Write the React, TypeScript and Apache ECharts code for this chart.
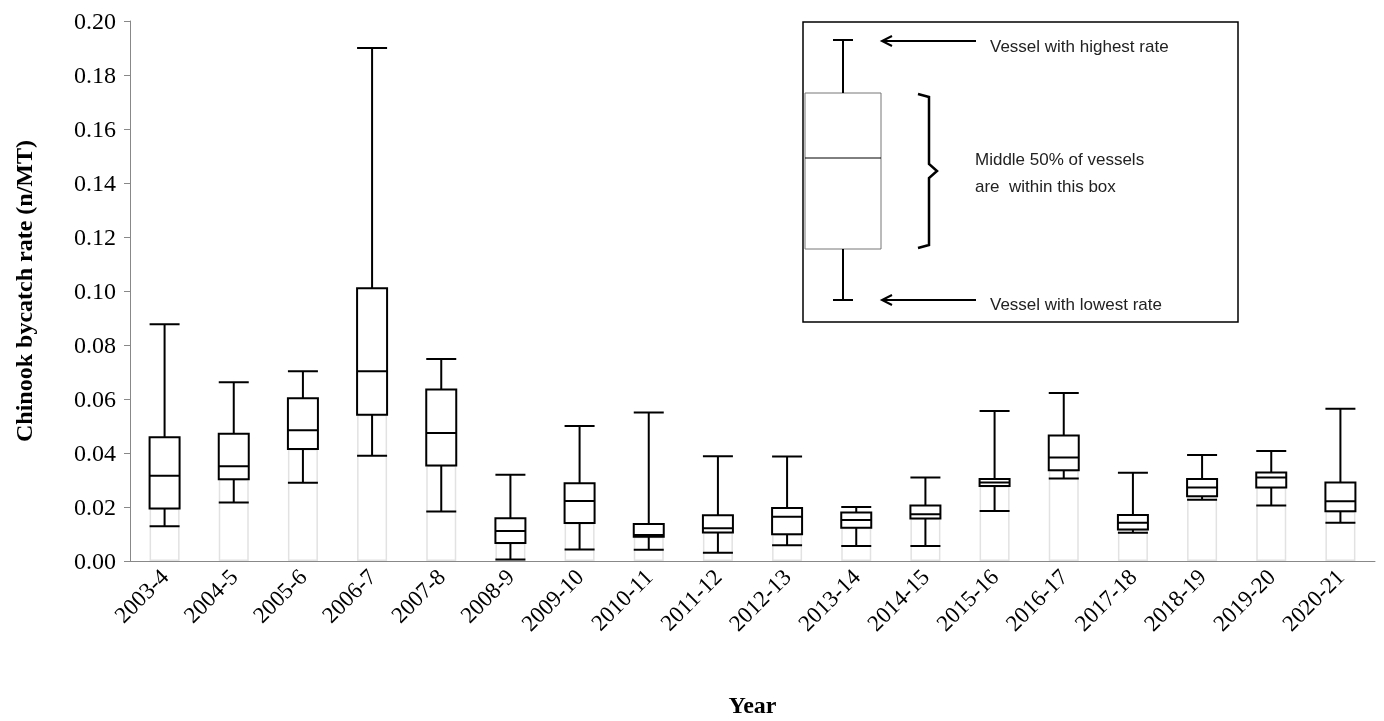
import React, { useEffect, useRef } from "react";
import * as echarts from "echarts";

const years = ["2003-4","2004-5","2005-6","2006-7","2007-8","2008-9","2009-10","2010-11","2011-12","2012-13","2013-14","2014-15","2015-16","2016-17","2017-18","2018-19","2019-20","2020-21"];
const lowest = [0.0129,0.0217,0.029,0.039,0.0183,0.0006,0.0043,0.0042,0.0031,0.0058,0.0056,0.0056,0.0185,0.0306,0.0105,0.0227,0.0206,0.0142];
const q1 = [0.0194,0.0303,0.0415,0.0542,0.0354,0.0067,0.0141,0.009,0.0106,0.0099,0.0123,0.0157,0.0278,0.0336,0.0117,0.024,0.0272,0.0184];
const median = [0.0316,0.0351,0.0484,0.0703,0.0474,0.0111,0.0222,0.0096,0.0121,0.0164,0.0152,0.0173,0.0291,0.0383,0.0142,0.0272,0.0309,0.0221];
const q3 = [0.0458,0.0471,0.0603,0.101,0.0635,0.0158,0.0288,0.0137,0.0169,0.0196,0.018,0.0206,0.0304,0.0465,0.017,0.0304,0.0328,0.0291];
const highest = [0.0877,0.0662,0.0703,0.19,0.0748,0.0319,0.05,0.055,0.0388,0.0387,0.02,0.0309,0.0556,0.0622,0.0327,0.0393,0.0407,0.0564];

export default function App() {
  const ref = useRef<HTMLDivElement>(null);
  useEffect(() => {
    const chart = echarts.init(ref.current!, null, { renderer: "svg" });
    const serif = "'Liberation Serif', 'Times New Roman', serif";
    const sans = "'Liberation Sans', Arial, sans-serif";
    const txt = (x: number, y: number, t: string) => ({ type: "text", x, y, style: { text: t, font: `17px ${sans}`, fill: "#222", textVerticalAlign: "middle" } });
    chart.setOption({
      animation: false,
      grid: { left: 130, right: 9, top: 21, bottom: 160, outerBoundsMode: "none", containLabel: false },
      xAxis: {
        type: "category", data: years, boundaryGap: true,
        name: "Year", nameLocation: "middle", nameGap: 132,
        nameTextStyle: { fontFamily: serif, fontSize: 24, fontWeight: "bold", color: "#000" },
        axisLine: { lineStyle: { color: "#888" } },
        axisTick: { lineStyle: { color: "#888" }, length: 6 },
        axisLabel: { rotate: 45, fontFamily: serif, fontSize: 23, color: "#000", margin: 12 },
      },
      yAxis: {
        type: "value", min: 0, max: 0.2, interval: 0.02,
        name: "Chinook bycatch rate (n/MT)", nameLocation: "middle", nameGap: 94,
        nameTextStyle: { fontFamily: serif, fontSize: 24, fontWeight: "bold", color: "#000" },
        splitLine: { show: false },
        axisLine: { show: true, lineStyle: { color: "#888" } },
        axisTick: { show: true, lineStyle: { color: "#888" }, length: 6 },
        axisLabel: { formatter: (v: number) => v.toFixed(2), fontFamily: serif, fontSize: 24, color: "#000", margin: 14 },
      },
      series: [
        {
          type: "bar", data: q1, barWidth: 30, barGap: "-100%", silent: true,
          itemStyle: { color: "rgba(255,255,255,0)", borderColor: "#e2e2e2", borderWidth: 1.5 },
        },
        {
          type: "boxplot", boxWidth: [30, 30], silent: true,
          data: years.map((_, i) => [lowest[i], q1[i], median[i], q3[i], highest[i]]),
          itemStyle: { color: "#fff", borderColor: "#000", borderWidth: 2 },
        },
      ],
      graphic: [
        { type: "rect", shape: { x: 803, y: 22, width: 435, height: 300 }, style: { fill: "#fff", stroke: "#000", lineWidth: 1.5 } },
        { type: "rect", shape: { x: 805, y: 93, width: 76, height: 156 }, style: { fill: "#fff", stroke: "#777", lineWidth: 1 } },
        { type: "line", shape: { x1: 805, y1: 158, x2: 881, y2: 158 }, style: { stroke: "#000", lineWidth: 1 } },
        { type: "line", shape: { x1: 843, y1: 40, x2: 843, y2: 93 }, style: { stroke: "#000", lineWidth: 2 } },
        { type: "line", shape: { x1: 833, y1: 40, x2: 853, y2: 40 }, style: { stroke: "#000", lineWidth: 2 } },
        { type: "line", shape: { x1: 843, y1: 249, x2: 843, y2: 300 }, style: { stroke: "#000", lineWidth: 2 } },
        { type: "line", shape: { x1: 833, y1: 300, x2: 853, y2: 300 }, style: { stroke: "#000", lineWidth: 2 } },
        { type: "line", shape: { x1: 882, y1: 41, x2: 976, y2: 41 }, style: { stroke: "#000", lineWidth: 2 } },
        { type: "polyline", shape: { points: [[892, 36], [882, 41], [892, 46]] }, style: { stroke: "#000", lineWidth: 2, fill: "none" } },
        { type: "line", shape: { x1: 882, y1: 300, x2: 976, y2: 300 }, style: { stroke: "#000", lineWidth: 2 } },
        { type: "polyline", shape: { points: [[892, 295], [882, 300], [892, 305]] }, style: { stroke: "#000", lineWidth: 2, fill: "none" } },
        { type: "polyline", shape: { points: [[918, 94], [929, 97], [929, 164], [937, 171], [929, 178], [929, 245], [918, 248]] }, style: { stroke: "#000", lineWidth: 2.5, fill: "none" } },
        txt(990, 46, "Vessel with highest rate"),
        txt(990, 304, "Vessel with lowest rate"),
        txt(975, 159, "Middle 50% of vessels"),
        txt(975, 186, "are  within this box"),
      ],
    });
    return () => chart.dispose();
  }, []);
  return <div ref={ref} style={{ position: "fixed", left: 0, top: 0, width: 1384, height: 721 }} />;
}
